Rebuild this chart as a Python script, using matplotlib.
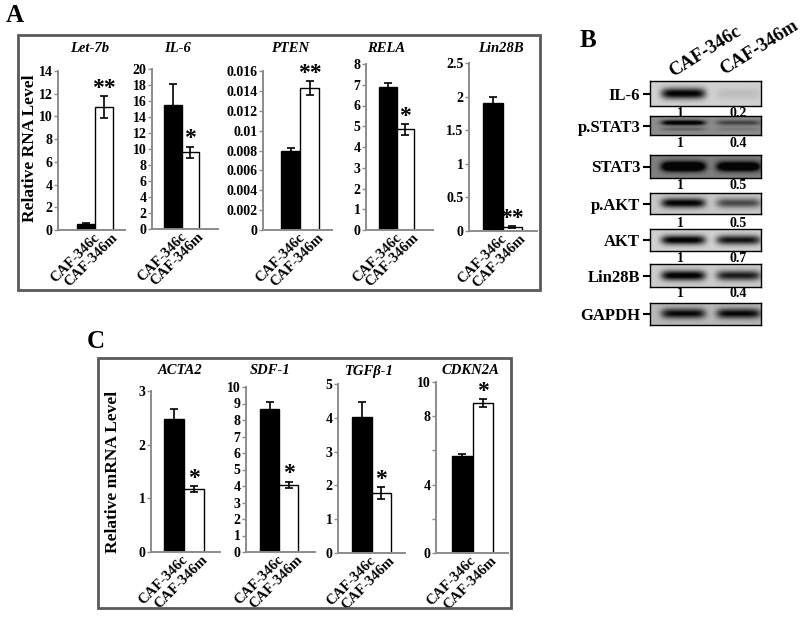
import numpy as np
import matplotlib
matplotlib.use("Agg")
import matplotlib.pyplot as plt
import matplotlib.transforms as mtransforms
from matplotlib.patches import Rectangle

plt.rcParams['font.family'] = ['Liberation Serif', 'DejaVu Serif']
plt.rcParams['font.weight'] = 'bold'

# ---- panel A data (relative RNA level) ----
genes_a = ['Let-7b', 'IL-6', 'PTEN', 'RELA', 'Lin28B']
caf346c_a = [0.53, 15.5, 0.0080, 6.88, 1.9]
caf346c_a_err = [0.08, 2.6, 0.0003, 0.22, 0.1]
caf346m_a = [10.85, 9.6, 0.0143, 4.85, 0.06]
caf346m_a_err = [0.95, 0.7, 0.0007, 0.27, 0.01]
stars_a = ['**', '*', '**', '*', '**']
yticks_a = [
    [0, 2, 4, 6, 8, 10, 12, 14],
    [0, 2, 4, 6, 8, 10, 12, 14, 16, 18, 20],
    [0, 0.002, 0.004, 0.006, 0.008, 0.010, 0.012, 0.014, 0.016],
    [0, 1, 2, 3, 4, 5, 6, 7, 8],
    [0, 0.5, 1, 1.5, 2, 2.5],
]
yticklabels_a = [
    ['0', '2', '4', '6', '8', '10', '12', '14'],
    ['0', '2', '4', '6', '8', '10', '12', '14', '16', '18', '20'],
    ['0', '0.002', '0.004', '0.006', '0.008', '0.01', '0.012', '0.014', '0.016'],
    ['0', '1', '2', '3', '4', '5', '6', '7', '8'],
    ['0', '0.5', '1', '1.5', '2', '2.5'],
]

# ---- panel C data (relative mRNA level) ----
genes_c = ['ACTA2', 'SDF-1', 'TGFβ-1', 'CDKN2A']
caf346c_c = [2.48, 8.67, 4.02, 5.7]
caf346c_c_err = [0.18, 0.4, 0.44, 0.1]
caf346m_c = [1.17, 4.07, 1.77, 8.77]
caf346m_c_err = [0.06, 0.2, 0.17, 0.25]
stars_c = ['*', '*', '*', '*']
yticks_c = [
    [0, 1, 2, 3],
    [0, 1, 2, 3, 4, 5, 6, 7, 8, 9, 10],
    [0, 1, 2, 3, 4, 5],
    [0, 2, 4, 6, 8, 10],
]
yticklabels_c = [
    ['0', '1', '2', '3'],
    ['0', '1', '2', '3', '4', '5', '6', '7', '8', '9', '10'],
    ['0', '1', '2', '3', '4', '5'],
    ['0', '', '4', '', '8', '10'],
]

samples = ['CAF-346c', 'CAF-346m']

# ---- panel B data (western blot) ----
blot_rows = ['IL-6', 'p.STAT3', 'STAT3', 'p.AKT', 'AKT', 'Lin28B', 'GAPDH']
quant_346c = ['1', '1', '1', '1', '1', '1']
quant_346m = ['0.2', '0.4', '0.5', '0.5', '0.7', '0.4']
band_346c = [0.85, 0.65, 0.85, 0.8, 0.85, 0.85, 0.7]
band_346m = [0.08, 0.3, 0.75, 0.5, 0.75, 0.7, 0.7]
blot_bg = [0.82, 0.55, 0.5, 0.78, 0.82, 0.8, 0.72]

W, H = 800, 620
fig = plt.figure(figsize=(W / 100, H / 100), dpi=100)
AXIS_GRAY = '#8c8c8c'


def px_axes(l, t, r, b):
    return fig.add_axes([l / W, 1 - b / H, (r - l) / W, (b - t) / H])


def bar_panel(box, bars, c, ce, m, me, star, ticks, labels):
    l, t, r, b = box
    bl, br = bars
    ax = px_axes(l, t, r, b)
    unit = (br - bl) / 2
    ax.set_xlim(-0.5 - (bl - l) / unit, 1.5 + (r - br) / unit)
    ax.set_ylim(0, ticks[-1])
    ax.bar([0, 1], [c, m], width=1, color=['black', 'white'],
           edgecolor='black', linewidth=1.0, zorder=2)
    ax.errorbar([0, 1], [c, m], yerr=[ce, me], fmt='none', ecolor='black',
                elinewidth=1.2, capsize=3, capthick=1.2, zorder=3)
    for side in ['top', 'right']:
        ax.spines[side].set_visible(False)
    for side in ['left', 'bottom']:
        ax.spines[side].set_color(AXIS_GRAY)
        ax.spines[side].set_linewidth(1.4)
    ax.set_yticks(ticks)
    ax.set_yticklabels(labels, fontsize=10, fontweight='bold')
    ax.tick_params(axis='y', direction='out', length=3, width=1,
                   color=AXIS_GRAY, pad=1)
    ax.set_xticks([0, 1])
    ax.set_xticklabels(samples, rotation=45, ha='right',
                       rotation_mode='anchor', fontsize=10.5,
                       fontweight='bold')
    ax.tick_params(axis='x', length=0, pad=1)
    off = mtransforms.ScaledTranslation(0.07, 0, fig.dpi_scale_trans)
    for lab in ax.get_xticklabels():
        lab.set_transform(lab.get_transform() + off)
    ax.annotate(star, xy=(1, m + me), xytext=(0, -2),
                textcoords='offset points', ha='center', va='bottom',
                fontsize=17, fontweight='bold')
    return ax


# panel A layout (pixels): axes box, bar extent, title x
boxes_a = [(58, 71, 125, 230), (152, 69, 218, 229), (263, 71, 332, 230),
           (366, 64, 433, 230), (469, 63, 537, 231)]
bars_a = [(77, 113), (164, 199), (281, 319), (379, 414), (483, 522)]
title_x_a = [90, 178, 290, 386, 501]

for i, g in enumerate(genes_a):
    bar_panel(boxes_a[i], bars_a[i], caf346c_a[i], caf346c_a_err[i],
              caf346m_a[i], caf346m_a_err[i], stars_a[i],
              yticks_a[i], yticklabels_a[i])
    fig.text(title_x_a[i] / W, 1 - 48 / H, g, ha='center', va='center',
             fontsize=10.5, style='italic', fontweight='bold')

fig.text(30 / W, 1 - 148 / H, 'Relative RNA Level', rotation=90,
         ha='center', va='center', fontsize=12.5, fontweight='bold')

# panel C layout
boxes_c = [(151, 391, 220, 552), (246, 387, 315, 552), (338, 384, 405, 553),
           (436, 382, 508, 553)]
bars_c = [(164, 204), (260, 298), (352, 391), (452, 493)]
title_x_c = [180, 270, 369, 470]

for i, g in enumerate(genes_c):
    bar_panel(boxes_c[i], bars_c[i], caf346c_c[i], caf346c_c_err[i],
              caf346m_c[i], caf346m_c_err[i], stars_c[i],
              yticks_c[i], yticklabels_c[i])
    fig.text(title_x_c[i] / W, 1 - 371 / H, g, ha='center', va='center',
             fontsize=10.5, style='italic', fontweight='bold')

fig.text(113 / W, 1 - 472 / H, 'Relative mRNA Level', rotation=90,
         ha='center', va='center', fontsize=12.5, fontweight='bold')

# frames around A and C
for (l, t, r, b) in [(18, 35, 540, 290), (98, 358, 511, 608)]:
    fig.add_artist(Rectangle((l / W, 1 - b / H), (r - l) / W, (b - t) / H,
                             transform=fig.transFigure, fill=False,
                             edgecolor='#5a5a5a', linewidth=2))

# panel B: blots
blot_boxes = [(81, 106), (116, 135), (155, 178), (193, 214), (229, 251),
              (264, 287), (303, 325)]
quant_base = [117, 147, 189, 227, 262, 297]
ny, nx = 40, 160
yy = np.linspace(0, 1, ny)[:, None]
xx = np.linspace(0, 1, nx)[None, :]
for i, name in enumerate(blot_rows):
    t, b = blot_boxes[i]
    ax = px_axes(650, t, 761, b)
    img = np.full((ny, nx), blot_bg[i])
    yc = 0.35 if name == 'p.STAT3' else 0.5
    hh = 0.14 if name == 'p.STAT3' else 0.22
    for lx, dark in [(0.30, band_346c[i]), (0.80, band_346m[i])]:
        lane = np.exp(-((xx - lx) / 0.2) ** 6)
        img = img - dark * lane * np.exp(-((yy - yc) / hh) ** 2)
        if name == 'p.STAT3':
            img = img - 0.25 * dark * lane * np.exp(-((yy - 0.7) / 0.1) ** 2)
    img = np.clip(img, 0.02, 1)
    ax.imshow(img, cmap='gray', vmin=0, vmax=1, aspect='auto',
              extent=(0, 1, 1, 0), interpolation='bilinear')
    ax.set_xlim(0, 1)
    ax.set_ylim(1, 0)
    ax.set_xticks([])
    ax.set_yticks([0.5])
    ax.set_yticklabels([name], fontsize=12, fontweight='bold')
    ax.tick_params(axis='y', length=5, width=1.5, pad=2)
    for sp in ax.spines.values():
        sp.set_linewidth(1)
    if i < len(quant_base):
        fig.text(680 / W, 1 - quant_base[i] / H, quant_346c[i], ha='center',
                 va='baseline', fontsize=10, fontweight='bold', zorder=5)
        fig.text(738 / W, 1 - quant_base[i] / H, quant_346m[i], ha='center',
                 va='baseline', fontsize=10, fontweight='bold', zorder=5)

fig.text(673 / W, 1 - 77 / H, samples[0], rotation=32, rotation_mode='anchor',
         ha='left', va='baseline', fontsize=13.5, fontweight='bold')
fig.text(724 / W, 1 - 75 / H, samples[1], rotation=32, rotation_mode='anchor',
         ha='left', va='baseline', fontsize=13.5, fontweight='bold')

# panel letters
fig.text(6 / W, 1 - 22 / H, 'A', fontsize=18, va='baseline', fontweight='bold')
fig.text(580 / W, 1 - 47 / H, 'B', fontsize=18, va='baseline', fontweight='bold')
fig.text(87 / W, 1 - 348 / H, 'C', fontsize=18, va='baseline', fontweight='bold')

fig.savefig('out.png', dpi=100)
